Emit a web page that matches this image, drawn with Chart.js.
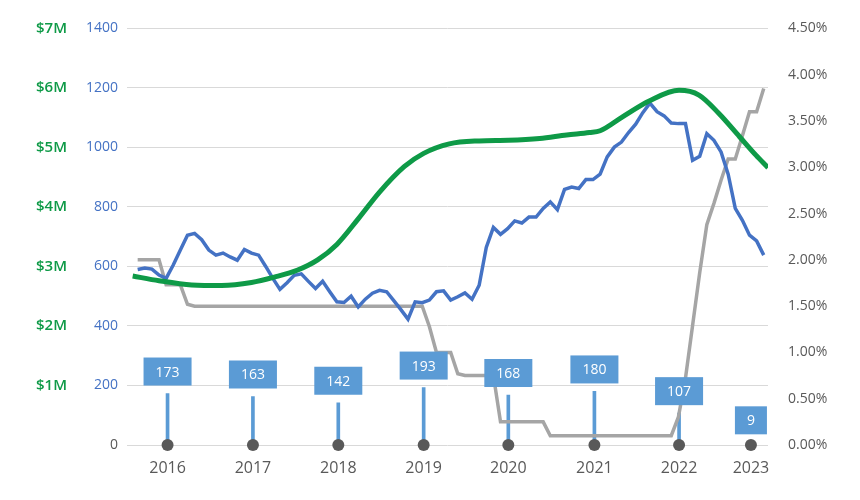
<!DOCTYPE html>
<html>
<head>
<meta charset="utf-8">
<script src="https://cdn.jsdelivr.net/npm/chart.js@4.4.1/dist/chart.umd.min.js"></script>
<style>
body { margin: 0; background: #fff; }
</style>
</head>
<body>
<canvas id="Chart" width="860" height="500"></canvas>
<script>
// year ticks (x = month index, 0 = first month of data)
const year_labels = ['2016', '2017', '2018', '2019', '2020', '2021', '2022', '2023'];
const year_pos = [4.2, 16.2, 28.2, 40.2, 52.1, 64.2, 76.1, 86.2];

// yearly counts shown as stems with boxes
const count_values = [173, 163, 142, 193, 168, 180, 107, 9];

// monthly blue series (left axis)
const blue_values = [
	590, 595, 591, 571, 560, 605, 655, 705, 711, 690,
	655, 638, 645, 632, 621, 657, 645, 638, 600, 560,
	523, 545, 570, 575, 550, 526, 550, 515, 481, 479,
	500, 464, 490, 510, 520, 515, 485, 455, 423, 481,
	478, 487, 515, 518, 487, 498, 511, 490, 537, 664,
	731, 708, 727, 753, 746, 766, 766, 795, 817, 791,
	859, 867, 862, 892, 892, 910, 968, 1001, 1018, 1050,
	1078, 1117, 1149, 1120, 1106, 1082, 1080, 1080, 957, 970,
	1046, 1024, 985, 910, 795, 755, 705, 686, 638
];

// monthly rate (right axis, %)
const rate_values = [
	2.00, 2.00, 2.00, 2.00, 1.73, 1.73, 1.73, 1.52, 1.50, 1.50,
	1.50, 1.50, 1.50, 1.50, 1.50, 1.50, 1.50, 1.50, 1.50, 1.50,
	1.50, 1.50, 1.50, 1.50, 1.50, 1.50, 1.50, 1.50, 1.50, 1.50,
	1.50, 1.50, 1.50, 1.50, 1.50, 1.50, 1.50, 1.50, 1.50, 1.50,
	1.50, 1.28, 1.00, 1.00, 1.00, 0.77, 0.75, 0.75, 0.75, 0.75,
	0.75, 0.25, 0.25, 0.25, 0.25, 0.25, 0.25, 0.25, 0.10, 0.10,
	0.10, 0.10, 0.10, 0.10, 0.10, 0.10, 0.10, 0.10, 0.10, 0.10,
	0.10, 0.10, 0.10, 0.10, 0.10, 0.10, 0.30, 0.72, 1.29, 1.86,
	2.38, 2.61, 2.86, 3.09, 3.09, 3.34, 3.60, 3.60, 3.85
];

// smooth green series ($M)
const green_x = [-0.7, 3, 7.6, 11.8, 16, 19.2, 22.5, 25.3, 28, 31, 34, 37.5, 40.2, 43.8, 48, 52.1, 56.5, 60.3, 63.5, 65, 68.1, 71.9, 76.1, 78.9, 81.7, 84.6, 86.9, 88.6];
const green_values = [2.84, 2.76, 2.69, 2.68, 2.73, 2.82, 2.94, 3.11, 3.37, 3.80, 4.25, 4.68, 4.90, 5.06, 5.11, 5.12, 5.15, 5.21, 5.25, 5.28, 5.51, 5.78, 5.96, 5.88, 5.57, 5.18, 4.87, 4.66];

const blue_data = blue_values.map((v, i) => ({ x: i, y: v }));
const rate_data = rate_values.map((v, i) => ({ x: i, y: v }));
const green_data = green_values.map((v, i) => ({ x: green_x[i], y: v }));
const stem_data = count_values.map((v, i) => ({ x: year_pos[i], y: v }));
const dot_data = year_pos.map(p => ({ x: p, y: 0 }));

// boxes with the count above each stem
const boxLabels = {
	id: 'boxLabels',
	afterDatasetsDraw(chart) {
		const meta = chart.getDatasetMeta(0);
		const c = chart.ctx;
		c.save();
		c.font = '14px "Open Sans"';
		c.textAlign = 'center';
		c.textBaseline = 'middle';
		meta.data.forEach((bar, i) => {
			const txt = String(count_values[i]);
			const w = c.measureText(txt).width + 24;
			const bottom = bar.y - 8;
			c.fillStyle = '#5B9BD5';
			c.fillRect(bar.x - w / 2, bottom - 28, w, 28);
			c.fillStyle = '#ffffff';
			c.fillText(txt, bar.x, bottom - 13);
		});
		c.restore();
	}
};

let lineCtx = document.getElementById('Chart');
let lineConfig = {
	data: {
		datasets: [{
			type: 'bar',
			data: stem_data,
			yAxisID: 'y',
			backgroundColor: '#5B9BD5',
			barThickness: 3,
			order: 5
		}, {
			type: 'line',
			data: rate_data,
			yAxisID: 'y2',
			borderColor: '#A5A5A5',
			borderWidth: 3.5,
			pointRadius: 0,
			tension: 0,
			order: 4
		}, {
			type: 'line',
			data: blue_data,
			yAxisID: 'y',
			borderColor: '#4472C4',
			borderWidth: 3.5,
			pointRadius: 0,
			tension: 0,
			order: 3
		}, {
			type: 'line',
			data: green_data,
			yAxisID: 'yM',
			borderColor: '#0E9A47',
			borderWidth: 5,
			pointRadius: 0,
			cubicInterpolationMode: 'monotone',
			order: 2
		}, {
			type: 'line',
			data: dot_data,
			yAxisID: 'y',
			showLine: false,
			pointRadius: 6,
			pointBackgroundColor: '#595959',
			pointBorderWidth: 0,
			clip: false,
			order: 1
		}]
	},
	options: {
		responsive: false,
		animation: false,
		layout: { padding: { top: 28, left: 0, right: 0, bottom: 0 } },
		plugins: {
			legend: { display: false },
			tooltip: { enabled: false }
		},
		scales: {
			x: {
				type: 'linear',
				offset: false,
				min: -1.5,
				max: 88.6,
				grid: { display: false, drawTicks: false, offset: false },
				border: { display: false },
				afterBuildTicks: axis => {
					axis.ticks = year_pos.map(p => ({ value: p }));
				},
				afterFit: axis => { axis.height = 55; },
				ticks: {
					autoSkip: false,
					maxRotation: 0,
					padding: 14,
					color: '#595959',
					font: { family: 'Open Sans', size: 16 },
					callback: (v, i) => year_labels[i]
				}
			},
			yM: {
				position: 'left',
				weight: 2,
				min: 0,
				max: 7,
				grid: { display: false, drawTicks: false },
				border: { display: false },
				afterFit: axis => { axis.width = 70; },
				ticks: {
					stepSize: 1,
					padding: 3,
					color: '#0E9A47',
					font: { family: 'Open Sans', size: 15, weight: '600' },
					callback: v => v === 0 ? '' : '$' + v + 'M'
				}
			},
			y: {
				position: 'left',
				weight: 1,
				min: 0,
				max: 1400,
				grid: { color: '#D9D9D9', drawTicks: false },
				border: { display: false },
				afterFit: axis => { axis.width = 57; },
				ticks: {
					stepSize: 200,
					padding: 9,
					color: ctx => ctx.tick.value === 0 ? '#595959' : '#4472C4',
					font: { family: 'Open Sans', size: 14 },
					callback: v => String(v)
				}
			},
			y2: {
				position: 'right',
				min: 0,
				max: 4.5,
				grid: { display: false, drawTicks: false },
				border: { display: false },
				afterFit: axis => { axis.width = 92; },
				ticks: {
					stepSize: 0.5,
					padding: 20,
					color: '#595959',
					font: { family: 'Open Sans', size: 14 },
					callback: v => v.toFixed(2) + '%'
				}
			}
		}
	},
	plugins: [boxLabels]
};
let lineChart = new Chart(lineCtx, lineConfig);
</script>
</body>
</html>
